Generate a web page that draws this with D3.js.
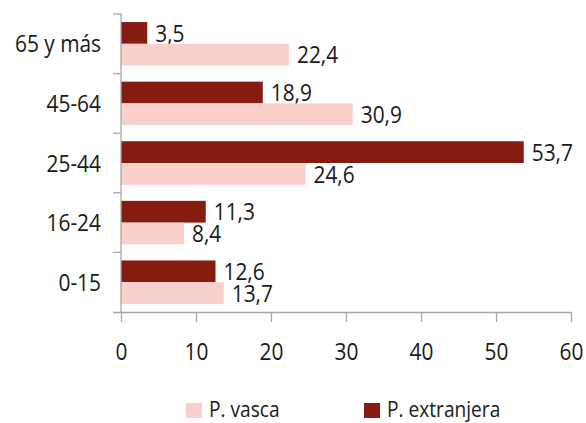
<!DOCTYPE html>
<html>
<head>
<meta charset="utf-8">
<script src="https://cdn.jsdelivr.net/npm/d3@7"></script>
<style>
  body { margin: 0; background: #fff; }
  text { font-family: "Open Sans", "DejaVu Sans Condensed", sans-serif; fill: #1a1a1a; }
</style>
</head>
<body>
<div id="chart"></div>
<script>
var categories = ["65 y más", "45-64", "25-44", "16-24", "0-15"];
var extranjera = [3.5, 18.9, 53.7, 11.3, 12.6];
var vasca = [22.4, 30.9, 24.6, 8.4, 13.7];
var xTicks = [0, 10, 20, 30, 40, 50, 60];

var width = 586, height = 423;
var margin = { top: 14, right: 15, bottom: 111, left: 121 };
var squeeze = 0.87; // the original font is narrower than what we have

var svg = d3.select("#chart")
    .append("svg")
    .attr("width", width)
    .attr("height", height);

var x = d3.scaleLinear()
    .domain([0, 60])
    .range([margin.left, width - margin.right]);

var y = d3.scaleBand()
    .domain(categories)
    .range([margin.top, height - margin.bottom]);

var series = [
    { name: "P. extranjera", values: extranjera, color: "#861b12" },
    { name: "P. vasca", values: vasca, color: "#f9d0cc" }
];

var ySub = d3.scaleBand()
    .domain(series.map(function (s) { return s.name; }))
    .range([0, y.bandwidth()])
    .paddingInner(0)
    .paddingOuter(0.37);

var fmt = function (v) { return d3.format(".1f")(v).replace(".", ","); };

function place(px, py) {
    return "translate(" + px + "," + py + ") scale(" + squeeze + ",1)";
}

// bars
series.forEach(function (s) {
    var g = svg.append("g");
    g.selectAll("rect")
        .data(categories)
        .enter()
        .append("rect")
        .attr("x", x(0))
        .attr("y", function (d) { return y(d) + ySub(s.name); })
        .attr("width", function (d, i) { return x(s.values[i]) - x(0); })
        .attr("height", ySub.bandwidth())
        .attr("fill", s.color);

    g.selectAll("text")
        .data(categories)
        .enter()
        .append("text")
        .attr("transform", function (d, i) {
            return place(x(s.values[i]) + 8, y(d) + ySub(s.name) + ySub.bandwidth() / 2);
        })
        .attr("dy", "0.36em")
        .style("font-size", "24px")
        .text(function (d, i) { return fmt(s.values[i]); });
});

// x axis
var xAxis = svg.append("g")
    .attr("transform", "translate(0," + (height - margin.bottom) + ")")
    .call(d3.axisBottom(x).tickValues(xTicks).tickSize(10).tickSizeOuter(0));
xAxis.select(".domain").attr("d", "M" + (margin.left - 8) + ",0.5H" + (width - margin.right));
xAxis.selectAll("line, .domain").attr("stroke", "#a6a6a6").attr("stroke-width", 1.3);
xAxis.selectAll("text")
    .attr("y", null).attr("dy", null)
    .attr("transform", "translate(0,48) scale(" + squeeze + ",1)")
    .style("font-size", "24px")
    .attr("fill", "#1a1a1a");

// y axis
var yAxis = svg.append("g")
    .attr("transform", "translate(" + margin.left + ",0)");
yAxis.append("line")
    .attr("x1", 0).attr("x2", 0)
    .attr("y1", margin.top).attr("y2", height - margin.bottom)
    .attr("stroke", "#a6a6a6").attr("stroke-width", 1.3);
yAxis.selectAll(".tick")
    .data(categories)
    .enter()
    .append("line")
    .attr("x1", -8).attr("x2", 0)
    .attr("y1", function (d) { return y(d); })
    .attr("y2", function (d) { return y(d); })
    .attr("stroke", "#a6a6a6").attr("stroke-width", 1.3);
yAxis.selectAll(".lbl")
    .data(categories)
    .enter()
    .append("text")
    .attr("transform", function (d) { return place(-20, y(d) + y.bandwidth() / 2); })
    .attr("dy", "0.36em")
    .attr("text-anchor", "end")
    .style("font-size", "24px")
    .text(function (d) { return d; });

// legend
var legendItems = [
    { name: "P. vasca", color: "#f9d0cc", x: 186 },
    { name: "P. extranjera", color: "#861b12", x: 364 }
];
var legend = svg.append("g");
legendItems.forEach(function (l) {
    legend.append("rect")
        .attr("x", l.x).attr("y", 403)
        .attr("width", 16).attr("height", 15)
        .attr("fill", l.color);
    legend.append("text")
        .attr("transform", place(l.x + 23, 409.5))
        .attr("dy", "0.36em")
        .style("font-size", "22px")
        .text(l.name);
});
</script>
</body>
</html>
